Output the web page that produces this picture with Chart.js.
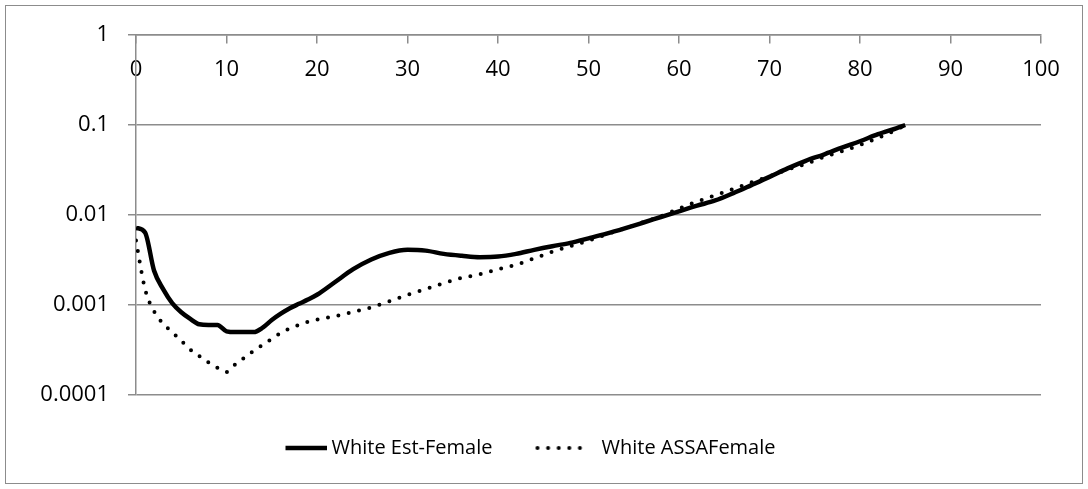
<!DOCTYPE html>
<html>
<head>
<meta charset="utf-8">
<title>White female mortality by age</title>
<script src="https://cdn.jsdelivr.net/npm/chart.js@4.4.1/dist/chart.umd.min.js"></script>
<style>
  html, body { margin: 0; padding: 0; background: #fff; }
  #wrap { position: relative; width: 1088px; height: 489px; }
  #frame {
    position: absolute; left: 5px; top: 5px; width: 1078px; height: 479px;
    box-sizing: border-box; border: 1px solid #8c8c8c; pointer-events: none;
  }
  canvas { position: absolute; left: 0; top: 0; }
</style>
</head>
<body>
<div id="wrap">
  <div id="frame"></div>
  <canvas id="chart" width="1088" height="489"></canvas>
</div>
<script>
// Ages (years) at which both curves are sampled
const ages = [
  0, 1, 2, 3, 4, 5, 6, 7, 8, 9,
  10, 11, 12, 13, 14, 15, 16, 17, 18, 19,
  20, 22, 24, 26, 28, 30, 32, 34, 36, 38,
  40, 42, 44, 46, 48, 50, 52, 54, 56, 58,
  60, 62, 64, 66, 68, 70, 72, 74, 76, 78,
  80, 82, 84, 85
];

// Estimated mortality rate, white females
const estFemale = [
  0.0072, 0.0064, 0.0024, 0.0015, 0.00105, 0.00083, 0.0007, 0.00061, 0.0006, 0.0006,
  0.00051, 0.0005, 0.0005, 0.0005, 0.00056, 0.00068, 0.0008, 0.00092, 0.00103, 0.00115,
  0.0013, 0.0018, 0.0025, 0.0032, 0.0038, 0.0041, 0.00402, 0.0037, 0.00352, 0.0034,
  0.00345, 0.0037, 0.0041, 0.0045, 0.0049, 0.0055, 0.0062, 0.0071, 0.0082, 0.0095,
  0.011, 0.0127, 0.0145, 0.0175, 0.0215, 0.0265, 0.033, 0.04, 0.047, 0.056,
  0.066, 0.079, 0.092, 0.1
];

// ASSA model mortality rate, white females
const assaFemale = [
  0.0052, 0.0015, 0.00085, 0.00062, 0.0005, 0.0004, 0.00032, 0.00027, 0.00023, 0.0002,
  0.00018, 0.00022, 0.00026, 0.00031, 0.00036, 0.00042, 0.00049, 0.00055, 0.0006, 0.00065,
  0.00069, 0.00075, 0.00084, 0.00094, 0.0011, 0.0013, 0.0015, 0.00175, 0.002, 0.0022,
  0.0025, 0.0028, 0.0033, 0.0039, 0.0045, 0.0052, 0.0061, 0.0071, 0.0083, 0.0097,
  0.0118, 0.0141, 0.0165, 0.0195, 0.023, 0.027, 0.032, 0.037, 0.044, 0.051,
  0.06, 0.072, 0.088, 0.1
];

// Decade ticks on the logarithmic rate axis
const yTicks = [0.0001, 0.001, 0.01, 0.1, 1];
const xMin = 0, xMax = 100, xStep = 10;

const toPoints = (vals) => ages.map((a, i) => ({ x: a, y: vals[i] }));

const gridColor = '#8c8c8c';
const fontFamily = '"Open Sans", "Noto Sans", sans-serif';
const tickFont = { family: fontFamily, size: 22 };

// Small swatches used as legend symbols (solid stroke / round dots)
function makeSwatch(dotted) {
  const c = document.createElement('canvas');
  c.width = 68; c.height = 10;
  const g = c.getContext('2d');
  g.strokeStyle = '#000';
  g.beginPath();
  if (dotted) {
    g.lineWidth = 4;
    g.lineCap = 'round';
    g.setLineDash([0, 10.6]);
    g.moveTo(8, 5); g.lineTo(60, 5);
  } else {
    g.lineWidth = 4.5;
    g.lineCap = 'butt';
    g.moveTo(26, 5); g.lineTo(68, 5);
  }
  g.stroke();
  return c;
}
const swatches = [makeSwatch(false), makeSwatch(true)];

new Chart(document.getElementById('chart'), {
  type: 'line',
  data: {
    datasets: [
      {
        label: 'White Est-Female',
        data: toPoints(estFemale),
        borderColor: '#000',
        backgroundColor: '#000',
        borderWidth: 4.5,
        pointRadius: 0,
        cubicInterpolationMode: 'monotone',
        borderJoinStyle: 'round'
      },
      {
        label: 'White ASSAFemale',
        data: toPoints(assaFemale),
        borderColor: '#000',
        backgroundColor: '#000',
        borderWidth: 4,
        borderDash: [0, 10.6],
        borderCapStyle: 'round',
        pointRadius: 0,
        cubicInterpolationMode: 'monotone'
      }
    ]
  },
  options: {
    responsive: false,
    animation: false,
    devicePixelRatio: 1,
    layout: { padding: { left: 0, right: 47, top: 35, bottom: 21 } },
    plugins: {
      tooltip: { enabled: false },
      legend: {
        position: 'bottom',
        labels: {
          usePointStyle: true,
          pointStyleWidth: 56,
          padding: 43,
          color: '#000',
          font: { family: fontFamily, size: 20 },
          generateLabels: (chart) => {
            const items = Chart.defaults.plugins.legend.labels.generateLabels(chart);
            items.forEach((it, i) => { it.pointStyle = swatches[i]; });
            return items;
          }
        }
      }
    },
    scales: {
      x: {
        type: 'linear',
        position: { y: 1 },
        min: xMin,
        max: xMax,
        ticks: {
          stepSize: xStep,
          color: '#000',
          font: tickFont,
          padding: 14,
          maxRotation: 0
        },
        grid: {
          drawOnChartArea: false,
          drawTicks: true,
          tickLength: 8,
          color: gridColor,
          lineWidth: 1.5
        },
        border: { color: gridColor, width: 1.5 }
      },
      y: {
        type: 'logarithmic',
        position: 'left',
        min: yTicks[0],
        max: yTicks[yTicks.length - 1],
        afterBuildTicks: (scale) => {
          scale.ticks = yTicks.map((v) => ({ value: v }));
        },
        afterFit: (scale) => { scale.width = 136; },
        ticks: {
          color: '#000',
          font: tickFont,
          padding: 19,
          callback: (v) => String(v)
        },
        grid: {
          color: gridColor,
          lineWidth: 1.5,
          tickLength: 8
        },
        border: { color: gridColor, width: 1.5 }
      }
    }
  }
});
</script>
</body>
</html>
